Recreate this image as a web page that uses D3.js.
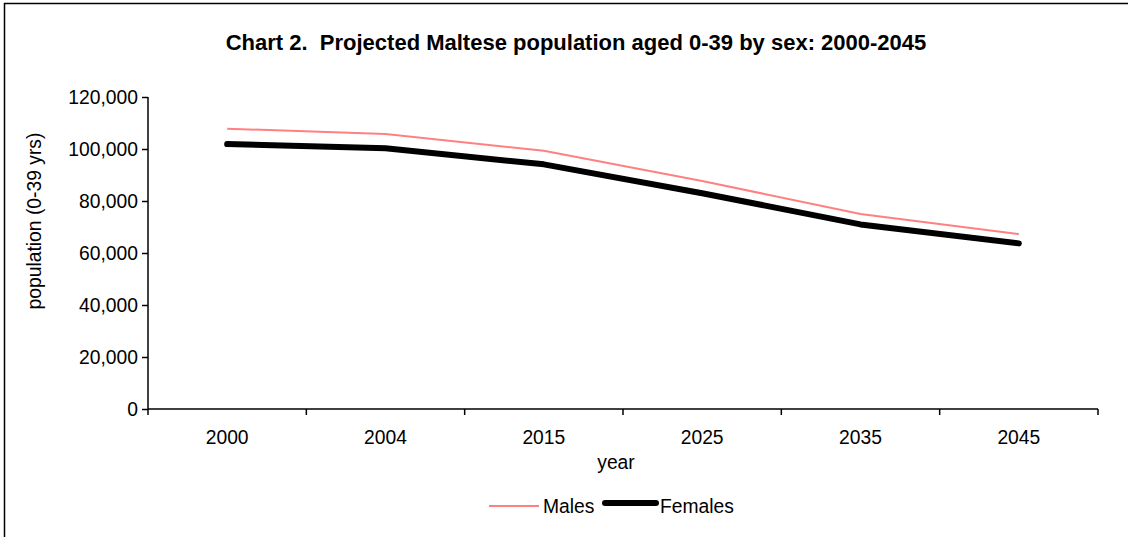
<!DOCTYPE html>
<html>
<head>
<meta charset="utf-8">
<script src="https://cdn.jsdelivr.net/npm/d3@7/dist/d3.min.js"></script>
<style>
  html, body { margin: 0; padding: 0; background: #fff; }
  svg { display: block; font-family: "Liberation Sans", Arial, sans-serif; }
</style>
</head>
<body>
<svg id="chart" width="1128" height="537"></svg>
<script>
// Projected Maltese population aged 0-39, by sex
const years = ["2000", "2004", "2015", "2025", "2035", "2045"];
const males = [107800, 105800, 99300, 87700, 75000, 67300];
const females = [101900, 100300, 94100, 83000, 71000, 63700];
const yTicks = [0, 20000, 40000, 60000, 80000, 100000, 120000];

const FS = 19.3;

const svg = d3.select("#chart");

// frame around the whole chart
svg.append("rect")
  .attr("x", 4.5).attr("y", 3.5)
  .attr("width", 1140).attr("height", 560)
  .attr("fill", "none").attr("stroke", "#000").attr("stroke-width", 1.5);

const plot = { left: 148, right: 1098, top: 97, bottom: 409 };

const x = d3.scaleBand().domain(years).range([plot.left, plot.right]);
const y = d3.scaleLinear().domain([0, 120000]).range([plot.bottom, plot.top]);

// y axis
const yAxis = svg.append("g")
  .attr("transform", `translate(${plot.left},0)`)
  .call(d3.axisLeft(y).tickValues(yTicks).tickSize(6).tickPadding(4)
    .tickFormat(d3.format(",")));
yAxis.attr("font-size", null).attr("font-family", null);
yAxis.select(".domain").attr("stroke", "#000").attr("stroke-width", 1.5)
  .attr("d", `M0,${plot.top}V${plot.bottom}`);
yAxis.selectAll(".tick line").attr("stroke", "#000").attr("stroke-width", 1.5);
yAxis.selectAll(".tick text").style("font-size", FS + "px").attr("fill", "#000");

// x axis with ticks on the category boundaries
const xAxis = svg.append("g")
  .attr("transform", `translate(0,${plot.bottom})`);
xAxis.append("line")
  .attr("x1", plot.left).attr("x2", plot.right)
  .attr("stroke", "#000").attr("stroke-width", 1.5);
const bounds = years.map(d => x(d)).concat([x(years[years.length - 1]) + x.bandwidth()]);
xAxis.selectAll("line.bt").data(bounds).enter().append("line")
  .attr("class", "bt")
  .attr("x1", d => d).attr("x2", d => d).attr("y1", 0).attr("y2", 6)
  .attr("stroke", "#000").attr("stroke-width", 1.5);
xAxis.selectAll("text").data(years).enter().append("text")
  .attr("x", d => x(d) + x.bandwidth() / 2)
  .attr("y", 35)
  .attr("text-anchor", "middle")
  .style("font-size", FS + "px")
  .text(d => d);

// lines
const line = d3.line()
  .x((d, i) => x(years[i]) + x.bandwidth() / 2)
  .y(d => y(d));

svg.append("path").datum(males)
  .attr("d", line).attr("fill", "none")
  .attr("stroke", "#ff8080").attr("stroke-width", 2);
svg.append("path").datum(females)
  .attr("d", line).attr("fill", "none")
  .attr("stroke", "#000").attr("stroke-width", 6)
  .attr("stroke-linecap", "round").attr("stroke-linejoin", "round");

// title and axis titles
svg.append("text")
  .attr("x", 576).attr("y", 50)
  .attr("text-anchor", "middle")
  .style("font-size", "22px").attr("font-weight", "bold")
  .style("white-space", "pre")
  .text("Chart 2.  Projected Maltese population aged 0-39 by sex: 2000-2045");

svg.append("text")
  .attr("x", 616).attr("y", 469)
  .attr("text-anchor", "middle")
  .style("font-size", FS + "px")
  .text("year");

svg.append("text")
  .attr("transform", `translate(41,221) rotate(-90)`)
  .attr("text-anchor", "middle")
  .style("font-size", FS + "px")
  .text("population (0-39 yrs)");

// legend
const legend = svg.append("g");
legend.append("line")
  .attr("x1", 489).attr("x2", 539).attr("y1", 506).attr("y2", 506)
  .attr("stroke", "#ff8080").attr("stroke-width", 2);
legend.append("text")
  .attr("x", 543).attr("y", 513).style("font-size", FS + "px").text("Males");
legend.append("line")
  .attr("x1", 605).attr("x2", 656).attr("y1", 503).attr("y2", 503)
  .attr("stroke", "#000").attr("stroke-width", 6)
  .attr("stroke-linecap", "round");
legend.append("text")
  .attr("x", 660).attr("y", 513).style("font-size", FS + "px").text("Females");
</script>
</body>
</html>
